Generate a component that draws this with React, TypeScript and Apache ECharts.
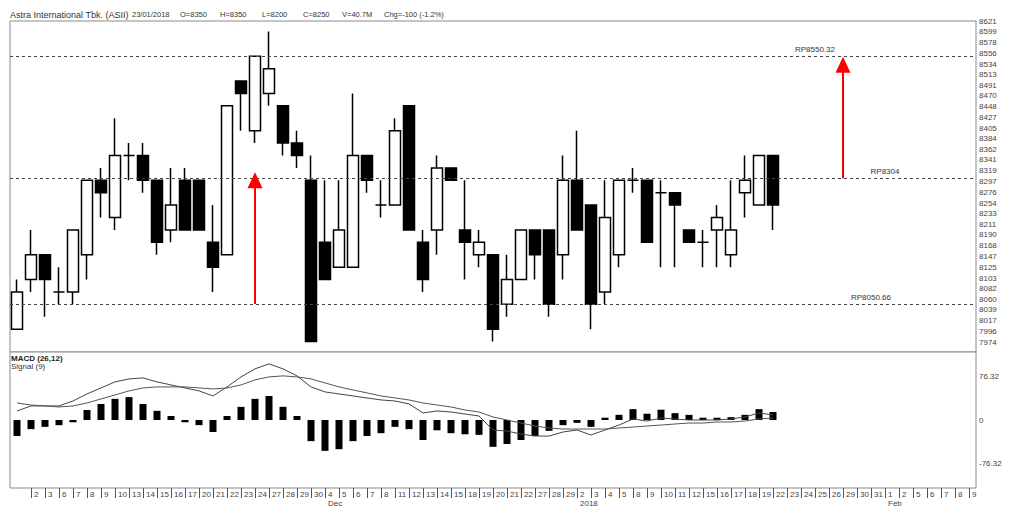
import React, { useEffect, useRef } from "react";
import * as echarts from "echarts";

const days = [
  "1","2","3","6","7","8","9","10","13","14","15","16","17","20","21","22","23","24","27","28","29","30",
  "4","5","6","7","8","11","12","13","14","15","18","19","20","21","22","27","28","29",
  "2","3","4","5","8","9","10","11","12","15","16","17","18","19","22","23","24","25","26","29","30","31",
  "1","2","5","6","7","8","9",
];
const monthIdx = [22, 40, 62];
const monthText = ["Dec", "2018", "Feb"];

const opens = [
  8000, 8100, 8150, 8075, 8075, 8150, 8300, 8225, 8350, 8350,
  8300, 8200, 8300, 8300, 8175, 8150, 8500, 8400, 8475, 8450,
  8375, 8300, 8175, 8125, 8125, 8350, 8250, 8250, 8450, 8175,
  8200, 8325, 8200, 8150, 8150, 8050, 8100, 8200, 8200, 8150,
  8300, 8250, 8075, 8150, 8300, 8300, 8275, 8275, 8200, 8175,
  8200, 8150, 8275, 8250, 8350,
];
const closes = [
  8075, 8150, 8100, 8075, 8200, 8300, 8275, 8350, 8350, 8300,
  8175, 8250, 8200, 8200, 8125, 8450, 8475, 8550, 8525, 8375,
  8350, 7975, 8100, 8200, 8350, 8300, 8250, 8400, 8200, 8100,
  8325, 8300, 8175, 8175, 8000, 8100, 8200, 8150, 8050, 8300,
  8200, 8050, 8225, 8300, 8300, 8175, 8275, 8250, 8175, 8175,
  8225, 8200, 8300, 8350, 8250,
];
const lows = [
  8000, 8075, 8025, 8050, 8050, 8100, 8225, 8200, 8300, 8275,
  8150, 8175, 8200, 8200, 8075, 8150, 8400, 8375, 8450, 8350,
  8325, 7975, 8100, 8125, 8125, 8275, 8225, 8250, 8200, 8075,
  8150, 8300, 8100, 8125, 7975, 8025, 8100, 8100, 8025, 8100,
  8200, 8000, 8050, 8125, 8275, 8175, 8125, 8125, 8175, 8125,
  8125, 8125, 8225, 8250, 8200,
];
const highs = [
  8100, 8200, 8150, 8125, 8200, 8300, 8325, 8425, 8375, 8375,
  8300, 8325, 8325, 8300, 8250, 8450, 8500, 8550, 8600, 8450,
  8400, 8350, 8300, 8300, 8475, 8350, 8300, 8425, 8450, 8200,
  8350, 8325, 8300, 8200, 8150, 8150, 8200, 8200, 8200, 8350,
  8400, 8250, 8300, 8300, 8325, 8300, 8300, 8275, 8200, 8200,
  8250, 8300, 8350, 8350, 8350,
];

const histogram = [
  -28, -16, -12, -9, -4, 17.5, 28, 37, 40, 28,
  16, 7, -4, -9, -21, 7, 23, 37, 42, 23,
  7, -37, -54, -51, -37, -28, -23, -12, -16, -35,
  -18, -23, -25, -26, -47, -42, -35, -28, -19, -9,
  -5, -12, 4, 9, 19, 11, 18, 12, 9, 4,
  4, 5, 9, 19, 14,
];
const macdLine = [
  15.8, 24.6, 24.6, 24.6, 33.3, 45.6, 56.1, 66.7, 71.9, 73.7,
  66.7, 61.4, 56.1, 50.9, 42.1, 57.9, 75.4, 89.5, 98.2, 89.5,
  77.2, 57.9, 49.1, 45.6, 42.1, 38.6, 35.1, 33.3, 28.1, 12.3,
  15.8, 14.0, 10.5, 7.0, -17.5, -19.3, -24.6, -28.1, -28.1, -21.0,
  -17.5, -26.3, -17.5, -8.8, 1.8, -1.8, 3.5, 1.8, 0, 0,
  0, 1.8, 5.3, 12.3, 8.8,
];
const signalLine = [
  29.8, 26.3, 24.6, 22.8, 24.6, 29.8, 36.8, 43.9, 50.9, 56.1,
  57.9, 57.9, 57.9, 56.1, 54.4, 56.1, 61.4, 70.2, 75.4, 77.2,
  75.4, 71.9, 64.9, 57.9, 52.6, 47.4, 42.1, 38.6, 35.1, 29.8,
  26.3, 22.8, 17.5, 14.0, 5.3, 0, -5.3, -10.5, -14.0, -15.8,
  -15.8, -15.8, -15.8, -14.0, -12.3, -10.5, -8.8, -7.0, -5.3, -5.3,
  -3.5, -3.5, -1.8, 1.8, 3.5,
];

const priceTicks = [
  7974, 7996, 8017, 8039, 8060, 8082, 8103, 8125, 8147, 8168, 8190, 8211, 8233, 8254, 8276, 8297,
  8319, 8341, 8362, 8384, 8405, 8427, 8448, 8470, 8491, 8513, 8534, 8556, 8578, 8599, 8621,
];
const macdTicks = [-76.32, 0, 76.32];

const levels = [8550.32, 8304, 8050.66];
const levelText = ["RP8550.32", "RP8304", "RP8050.66"];
const levelLabelIdx = [57, 62, 61];

const arrowIdx = [17, 59];
const arrowFrom = [8050.66, 8304];
const arrowTo = [8300, 8533];

const headerTexts = ["Astra International Tbk. (ASII)", "23/01/2018", "O=8350", "H=8350", "L=8200", "C=8250", "V=40.7M", "Chg=-100 (-1.2%)"];
const headerX = [10, 132, 180, 220, 262, 303, 342, 384];

const FONT = "Liberation Sans, Arial, sans-serif";

export default function App() {
  const ref = useRef<HTMLDivElement>(null);
  useEffect(() => {
    if (!ref.current) return;
    const chart = echarts.init(ref.current, undefined, { renderer: "svg" });
    const candles = opens.map((o, i) => [o, closes[i], lows[i], highs[i]]);
    const gridLeft = 10;
    const gridW = 966;

    const markLineData: any[] = levels.map((v) => ({
      yAxis: v,
      symbol: "none",
      lineStyle: { color: "#444", width: 1, type: [3, 3] },
      label: { show: false },
    }));
    arrowIdx.forEach((idx, k) => {
      markLineData.push([
        { coord: [idx, arrowFrom[k]], symbol: "none" },
        {
          coord: [idx, arrowTo[k]],
          symbol: "triangle",
          symbolSize: [15, 16],
          lineStyle: { color: "#ff0000", width: 2, type: "solid" },
          itemStyle: { color: "#ff0000" },
        },
      ]);
    });

    const option: any = {
      animation: false,
      textStyle: { fontFamily: FONT },
      grid: [
        { left: gridLeft, top: 21, width: gridW, height: 331, show: true, borderColor: "#8a8a8a", borderWidth: 1, backgroundColor: "#fff" },
        { left: gridLeft, top: 352, width: gridW, height: 136, show: true, borderColor: "#8a8a8a", borderWidth: 1, backgroundColor: "#fff" },
      ],
      xAxis: [
        {
          type: "category",
          gridIndex: 0,
          data: days,
          boundaryGap: true,
          axisLine: { show: false, onZero: false },
          axisTick: { show: false },
          axisLabel: { show: false },
          splitLine: { show: false },
        },
        {
          type: "category",
          gridIndex: 1,
          data: days,
          boundaryGap: true,
          position: "bottom",
          axisLine: { show: false, onZero: false },
          axisTick: {
            show: true,
            alignWithLabel: true,
            interval: (i: number) => i !== 0,
            length: 10,
            lineStyle: { color: "#555", width: 1 },
          },
          axisLabel: {
            show: true,
            interval: 0,
            align: "left",
            margin: 2,
            padding: [0, 0, 0, 3],
            fontSize: 8,
            lineHeight: 9,
            color: "#444",
            fontFamily: FONT,
            formatter: (v: string, i: number) => {
              if (i === 0) return "";
              const m = monthIdx.indexOf(i);
              return m >= 0 ? v + "\n" + monthText[m] : v;
            },
          },
          splitLine: { show: false },
        },
      ],
      yAxis: [
        {
          type: "value",
          gridIndex: 0,
          position: "right",
          min: 7954,
          max: 8621,
          axisLine: { show: false },
          axisTick: { show: false },
          splitLine: { show: false },
          axisLabel: {
            customValues: priceTicks,
            fontSize: 8,
            color: "#444",
            margin: 3,
            fontFamily: FONT,
            formatter: (v: number) => String(Math.round(v)),
          },
        },
        {
          type: "value",
          gridIndex: 1,
          position: "right",
          min: -119,
          max: 119,
          axisLine: { show: false },
          axisTick: { show: false },
          splitLine: { show: false },
          axisLabel: {
            customValues: macdTicks,
            fontSize: 8,
            color: "#444",
            margin: 3,
            fontFamily: FONT,
            formatter: (v: number) => (v === 0 ? "0" : v.toFixed(2)),
          },
        },
      ],
      series: [
        {
          type: "candlestick",
          xAxisIndex: 0,
          yAxisIndex: 0,
          data: candles,
          barWidth: "84%",
          itemStyle: {
            color: "#ffffff",
            color0: "#000000",
            borderColor: "#000000",
            borderColor0: "#000000",
            borderColorDoji: "#000000",
            borderWidth: 1.5,
          },
          markLine: {
            silent: true,
            symbol: ["none", "none"],
            animation: false,
            label: { show: false },
            data: markLineData,
          },
          markPoint: {
            silent: true,
            symbol: "circle",
            symbolSize: 1,
            itemStyle: { color: "rgba(0,0,0,0)" },
            label: {
              show: true,
              position: "top",
              distance: 2,
              fontSize: 8,
              color: "#333",
              fontFamily: FONT,
              formatter: (p: any) => p.name,
            },
            data: levels.map((v, k) => ({ name: levelText[k], coord: [levelLabelIdx[k], v] })),
          },
        },
        {
          type: "bar",
          xAxisIndex: 1,
          yAxisIndex: 1,
          data: histogram,
          barWidth: 7,
          itemStyle: { color: "#000" },
        },
        {
          type: "line",
          xAxisIndex: 1,
          yAxisIndex: 1,
          data: macdLine,
          symbol: "none",
          lineStyle: { color: "#444", width: 1 },
        },
        {
          type: "line",
          xAxisIndex: 1,
          yAxisIndex: 1,
          data: signalLine,
          symbol: "none",
          lineStyle: { color: "#555", width: 1 },
        },
      ],
      graphic: [
        ...headerTexts.map((t, i) => ({
          type: "text",
          left: headerX[i],
          top: 10,
          style: { text: t, fontSize: i === 0 ? 9 : 7.5, fill: "#333", fontFamily: FONT },
        })),
        { type: "text", left: 11, top: 354, style: { text: "MACD (26,12)", fontSize: 8, fill: "#222", fontFamily: FONT, fontWeight: "bold" } },
        { type: "text", left: 11, top: 362, style: { text: "Signal (9)", fontSize: 8, fill: "#333", fontFamily: FONT } },
      ],
    };
    chart.setOption(option);
    return () => chart.dispose();
  }, []);
  return <div ref={ref} style={{ position: "fixed", left: 0, top: 0, width: 1011, height: 508, background: "#fff" }} />;
}
